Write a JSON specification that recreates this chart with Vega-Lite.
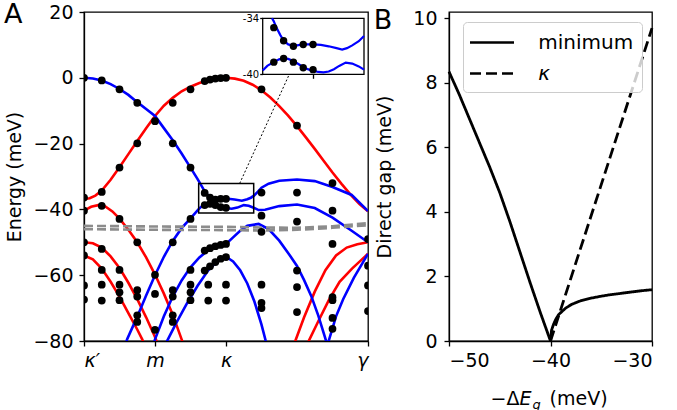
{
"$schema": "https://vega.github.io/schema/vega-lite/v6.json",
"padding": {"left": 3, "top": 0, "right": 0, "bottom": 0},
"spacing": 3,
"resolve": {"scale": {"strokeDash": "independent", "color": "independent"}, "legend": {"strokeDash": "independent", "color": "independent"}},
"config": {
 "font": "DejaVu Sans",
 "view": {"stroke": "black", "strokeWidth": 1.3},
 "axis": {"grid": false, "domainColor": "black", "tickColor": "black", "labelColor": "black", "titleColor": "black", "labelFontSize": 19, "titleFontSize": 19, "titleFontWeight": "normal", "tickSize": 5, "labelPadding": 5, "domainWidth": 1.3, "tickWidth": 1.3, "labelFont": "DejaVu Sans", "titleFont": "DejaVu Sans"},
 "title": {"fontSize": 27, "fontWeight": "normal", "font": "DejaVu Sans", "anchor": "start", "color": "black"},
 "legend": {"labelFont": "DejaVu Sans"}
},
"datasets": {
 "bands": [
  {"b":"R1","f":"r","x":0,"E":-36.8},{"b":"R1","f":"r","x":0.08,"E":-36.6},{"b":"R1","f":"r","x":0.16,"E":-35.8},{"b":"R1","f":"r","x":0.25,"E":-34.3},{"b":"R1","f":"r","x":0.375,"E":-31},{"b":"R1","f":"r","x":0.5,"E":-27.2},{"b":"R1","f":"r","x":0.625,"E":-23.2},{"b":"R1","f":"r","x":0.75,"E":-19.2},{"b":"R1","f":"r","x":0.875,"E":-15.3},{"b":"R1","f":"r","x":1,"E":-11.6},{"b":"R1","f":"r","x":1.125,"E":-8.5},{"b":"R1","f":"r","x":1.25,"E":-6.1},{"b":"R1","f":"r","x":1.375,"E":-4.1},{"b":"R1","f":"r","x":1.5,"E":-2.7},{"b":"R1","f":"r","x":1.625,"E":-1.6},{"b":"R1","f":"r","x":1.75,"E":-0.75},{"b":"R1","f":"r","x":1.875,"E":-0.2},{"b":"R1","f":"r","x":2,"E":0},{"b":"R1","f":"r","x":2.125,"E":-0.25},{"b":"R1","f":"r","x":2.25,"E":-0.9},{"b":"R1","f":"r","x":2.375,"E":-2.1},{"b":"R1","f":"r","x":2.5,"E":-3.8},{"b":"R1","f":"r","x":2.625,"E":-6},{"b":"R1","f":"r","x":2.75,"E":-8.6},{"b":"R1","f":"r","x":2.875,"E":-11.5},{"b":"R1","f":"r","x":3,"E":-14.7},{"b":"R1","f":"r","x":3.125,"E":-18.1},{"b":"R1","f":"r","x":3.25,"E":-21.6},{"b":"R1","f":"r","x":3.375,"E":-25.2},{"b":"R1","f":"r","x":3.5,"E":-28.8},{"b":"R1","f":"r","x":3.63,"E":-32.3},{"b":"R1","f":"r","x":3.77,"E":-35.9},{"b":"R1","f":"r","x":3.88,"E":-38.4},{"b":"R1","f":"r","x":4,"E":-40.6},
  {"b":"R2","f":"r","x":0,"E":-40.4},{"b":"R2","f":"r","x":0.1,"E":-39.2},{"b":"R2","f":"r","x":0.2,"E":-38.7},{"b":"R2","f":"r","x":0.3,"E":-39.1},{"b":"R2","f":"r","x":0.4,"E":-40.6},{"b":"R2","f":"r","x":0.5,"E":-42.8},{"b":"R2","f":"r","x":0.625,"E":-46.2},{"b":"R2","f":"r","x":0.75,"E":-50},{"b":"R2","f":"r","x":0.875,"E":-54.6},{"b":"R2","f":"r","x":1,"E":-59.8},{"b":"R2","f":"r","x":1.125,"E":-65.6},{"b":"R2","f":"r","x":1.25,"E":-72},{"b":"R2","f":"r","x":1.375,"E":-79.5},{"b":"R2","f":"r","x":1.4,"E":-81},
  {"b":"R3","f":"r","x":0,"E":-50},{"b":"R3","f":"r","x":0.125,"E":-50.3},{"b":"R3","f":"r","x":0.25,"E":-51.6},{"b":"R3","f":"r","x":0.375,"E":-54.3},{"b":"R3","f":"r","x":0.5,"E":-57.8},{"b":"R3","f":"r","x":0.625,"E":-62.3},{"b":"R3","f":"r","x":0.75,"E":-67.3},{"b":"R3","f":"r","x":0.875,"E":-72.8},{"b":"R3","f":"r","x":1,"E":-78.8},{"b":"R3","f":"r","x":1.04,"E":-81},
  {"b":"R4","f":"r","x":0,"E":-54},{"b":"R4","f":"r","x":0.125,"E":-55.2},{"b":"R4","f":"r","x":0.25,"E":-58},{"b":"R4","f":"r","x":0.375,"E":-62},{"b":"R4","f":"r","x":0.5,"E":-66.5},{"b":"R4","f":"r","x":0.625,"E":-71.5},{"b":"R4","f":"r","x":0.75,"E":-76.5},{"b":"R4","f":"r","x":0.82,"E":-79.5},{"b":"R4","f":"r","x":0.85,"E":-81},
  {"b":"R5","f":"r","x":2.96,"E":-81},{"b":"R5","f":"r","x":2.976,"E":-80},{"b":"R5","f":"r","x":3.1,"E":-72.8},{"b":"R5","f":"r","x":3.25,"E":-65},{"b":"R5","f":"r","x":3.4,"E":-58.5},{"b":"R5","f":"r","x":3.55,"E":-54},{"b":"R5","f":"r","x":3.7,"E":-51.6},{"b":"R5","f":"r","x":3.85,"E":-50.6},{"b":"R5","f":"r","x":4,"E":-50},
  {"b":"R6","f":"r","x":3.15,"E":-81},{"b":"R6","f":"r","x":3.165,"E":-80},{"b":"R6","f":"r","x":3.3,"E":-74},{"b":"R6","f":"r","x":3.45,"E":-67.5},{"b":"R6","f":"r","x":3.6,"E":-62},{"b":"R6","f":"r","x":3.775,"E":-58},{"b":"R6","f":"r","x":3.9,"E":-55.5},{"b":"R6","f":"r","x":4,"E":-53.5},
  {"b":"B1","f":"b","x":0,"E":0},{"b":"B1","f":"b","x":0.125,"E":-0.2},{"b":"B1","f":"b","x":0.25,"E":-0.8},{"b":"B1","f":"b","x":0.375,"E":-1.9},{"b":"B1","f":"b","x":0.5,"E":-3.4},{"b":"B1","f":"b","x":0.625,"E":-5.2},{"b":"B1","f":"b","x":0.75,"E":-7.4},{"b":"B1","f":"b","x":0.875,"E":-9.5},{"b":"B1","f":"b","x":1,"E":-11.6},{"b":"B1","f":"b","x":1.125,"E":-15.3},{"b":"B1","f":"b","x":1.25,"E":-19},{"b":"B1","f":"b","x":1.375,"E":-23},{"b":"B1","f":"b","x":1.5,"E":-27.3},{"b":"B1","f":"b","x":1.6,"E":-30.8},{"b":"B1","f":"b","x":1.686,"E":-34},{"b":"B1","f":"b","x":1.72,"E":-35},{"b":"B1","f":"b","x":1.75,"E":-35.8},{"b":"B1","f":"b","x":1.776,"E":-36.4},{"b":"B1","f":"b","x":1.81,"E":-36.8},{"b":"B1","f":"b","x":1.853,"E":-36.95},{"b":"B1","f":"b","x":1.93,"E":-36.8},{"b":"B1","f":"b","x":2,"E":-36.8},{"b":"B1","f":"b","x":2.06,"E":-36.85},{"b":"B1","f":"b","x":2.12,"E":-37},{"b":"B1","f":"b","x":2.223,"E":-37.35},{"b":"B1","f":"b","x":2.3,"E":-36.9},{"b":"B1","f":"b","x":2.35,"E":-36.45},{"b":"B1","f":"b","x":2.39,"E":-35.9},{"b":"B1","f":"b","x":2.45,"E":-34.6},{"b":"B1","f":"b","x":2.5,"E":-33.4},{"b":"B1","f":"b","x":2.6,"E":-32.2},{"b":"B1","f":"b","x":2.75,"E":-31.3},{"b":"B1","f":"b","x":3,"E":-30.9},{"b":"B1","f":"b","x":3.25,"E":-31.4},{"b":"B1","f":"b","x":3.5,"E":-33.2},{"b":"B1","f":"b","x":3.77,"E":-35.6},{"b":"B1","f":"b","x":4,"E":-40.5},
  {"b":"B2","f":"b","x":0.59,"E":-81},{"b":"B2","f":"b","x":0.606,"E":-79.5},{"b":"B2","f":"b","x":0.75,"E":-72.6},{"b":"B2","f":"b","x":0.875,"E":-66.2},{"b":"B2","f":"b","x":1,"E":-60},{"b":"B2","f":"b","x":1.125,"E":-54.4},{"b":"B2","f":"b","x":1.25,"E":-49.6},{"b":"B2","f":"b","x":1.375,"E":-45.7},{"b":"B2","f":"b","x":1.5,"E":-42.7},{"b":"B2","f":"b","x":1.615,"E":-39.9},{"b":"B2","f":"b","x":1.65,"E":-39.2},{"b":"B2","f":"b","x":1.699,"E":-38.7},{"b":"B2","f":"b","x":1.74,"E":-38.4},{"b":"B2","f":"b","x":1.776,"E":-38.3},{"b":"B2","f":"b","x":1.81,"E":-38.35},{"b":"B2","f":"b","x":1.853,"E":-38.6},{"b":"B2","f":"b","x":1.9,"E":-39},{"b":"B2","f":"b","x":1.93,"E":-39.3},{"b":"B2","f":"b","x":2,"E":-39.6},{"b":"B2","f":"b","x":2.08,"E":-39.8},{"b":"B2","f":"b","x":2.16,"E":-39.45},{"b":"B2","f":"b","x":2.25,"E":-38.7},{"b":"B2","f":"b","x":2.32,"E":-38.9},{"b":"B2","f":"b","x":2.39,"E":-39.5},{"b":"B2","f":"b","x":2.46,"E":-40.2},{"b":"B2","f":"b","x":2.55,"E":-40.1},{"b":"B2","f":"b","x":2.75,"E":-39},{"b":"B2","f":"b","x":3,"E":-38.5},{"b":"B2","f":"b","x":3.25,"E":-39.6},{"b":"B2","f":"b","x":3.5,"E":-42.5},{"b":"B2","f":"b","x":3.77,"E":-46.5},{"b":"B2","f":"b","x":4,"E":-50},
  {"b":"B3","f":"b","x":0.98,"E":-81},{"b":"B3","f":"b","x":1,"E":-79.5},{"b":"B3","f":"b","x":1.125,"E":-72.5},{"b":"B3","f":"b","x":1.25,"E":-66.5},{"b":"B3","f":"b","x":1.375,"E":-61.6},{"b":"B3","f":"b","x":1.5,"E":-57.6},{"b":"B3","f":"b","x":1.625,"E":-54.6},{"b":"B3","f":"b","x":1.75,"E":-52.4},{"b":"B3","f":"b","x":1.875,"E":-51},{"b":"B3","f":"b","x":2,"E":-50.5},{"b":"B3","f":"b","x":2.1,"E":-48.5},{"b":"B3","f":"b","x":2.2,"E":-46.5},{"b":"B3","f":"b","x":2.3,"E":-45},{"b":"B3","f":"b","x":2.46,"E":-44.4},{"b":"B3","f":"b","x":2.6,"E":-46},{"b":"B3","f":"b","x":2.75,"E":-49.5},{"b":"B3","f":"b","x":2.9,"E":-54},{"b":"B3","f":"b","x":3,"E":-57.2},{"b":"B3","f":"b","x":3.1,"E":-61.5},{"b":"B3","f":"b","x":3.2,"E":-66.3},{"b":"B3","f":"b","x":3.3,"E":-72.3},{"b":"B3","f":"b","x":3.4,"E":-79.3},{"b":"B3","f":"b","x":3.43,"E":-81.5},
  {"b":"B4","f":"b","x":1.15,"E":-81.5},{"b":"B4","f":"b","x":1.17,"E":-80},{"b":"B4","f":"b","x":1.3,"E":-74.5},{"b":"B4","f":"b","x":1.45,"E":-68.6},{"b":"B4","f":"b","x":1.6,"E":-63.2},{"b":"B4","f":"b","x":1.75,"E":-58.5},{"b":"B4","f":"b","x":1.875,"E":-55.8},{"b":"B4","f":"b","x":2,"E":-54.4},{"b":"B4","f":"b","x":2.1,"E":-55.8},{"b":"B4","f":"b","x":2.2,"E":-58.5},{"b":"B4","f":"b","x":2.3,"E":-62.5},{"b":"B4","f":"b","x":2.4,"E":-68},{"b":"B4","f":"b","x":2.5,"E":-75},{"b":"B4","f":"b","x":2.56,"E":-80},{"b":"B4","f":"b","x":2.58,"E":-81.5},
  {"b":"B5","f":"b","x":3.43,"E":-81.5},{"b":"B5","f":"b","x":3.446,"E":-80},{"b":"B5","f":"b","x":3.55,"E":-72.5},{"b":"B5","f":"b","x":3.65,"E":-67.3},{"b":"B5","f":"b","x":3.8,"E":-60.8},{"b":"B5","f":"b","x":4,"E":-53.5}
 ],
 "flat": [
  {"b":"G1","x":0,"E":-45},{"b":"G1","x":1,"E":-45.2},{"b":"G1","x":2,"E":-45.3},{"b":"G1","x":2.5,"E":-45.5},{"b":"G1","x":3,"E":-45.6},{"b":"G1","x":3.5,"E":-45.1},{"b":"G1","x":4,"E":-44.2},
  {"b":"G2","x":0,"E":-46},{"b":"G2","x":1,"E":-46.2},{"b":"G2","x":2,"E":-46.3},{"b":"G2","x":2.5,"E":-46.4},{"b":"G2","x":3,"E":-46.2},{"b":"G2","x":3.5,"E":-45.6},{"b":"G2","x":4,"E":-44.8}
 ],
 "pts": [
  {"x":0,"E":0},{"x":0,"E":-36.4},{"x":0,"E":-40.4},{"x":0,"E":-50},{"x":0,"E":-54},{"x":0,"E":-63.1},{"x":0,"E":-67.4},
  {"x":0.25,"E":-0.8},{"x":0.25,"E":-34.7},{"x":0.25,"E":-38.9},{"x":0.25,"E":-52},{"x":0.25,"E":-58.4},{"x":0.25,"E":-62.9},{"x":0.25,"E":-67.7},
  {"x":0.5,"E":-3.5},{"x":0.5,"E":-27.3},{"x":0.5,"E":-42.9},{"x":0.5,"E":-58.4},{"x":0.5,"E":-62.9},{"x":0.5,"E":-65.2},{"x":0.5,"E":-67.6},
  {"x":0.75,"E":-7.6},{"x":0.75,"E":-19.9},{"x":0.75,"E":-50},{"x":0.75,"E":-64.5},{"x":0.75,"E":-66.5},{"x":0.75,"E":-72.2},{"x":0.75,"E":-74.2},
  {"x":1,"E":-13.2},{"x":1,"E":-59.9},{"x":1,"E":-65.7},{"x":1,"E":-76.6},
  {"x":1.25,"E":-7.6},{"x":1.25,"E":-19.9},{"x":1.25,"E":-50},{"x":1.25,"E":-64.5},{"x":1.25,"E":-66.5},{"x":1.25,"E":-72.2},{"x":1.25,"E":-74.2},
  {"x":1.5,"E":-3.5},{"x":1.5,"E":-27.3},{"x":1.5,"E":-42.9},{"x":1.5,"E":-58.4},{"x":1.5,"E":-62.9},{"x":1.5,"E":-65.2},{"x":1.5,"E":-67.6},
  {"x":1.75,"E":-62.9},{"x":1.75,"E":-67.7},
  {"x":1.7,"E":-1},{"x":1.775,"E":-0.55},{"x":1.85,"E":-0.25},{"x":1.925,"E":-0.07},{"x":2,"E":0},
  {"x":1.7,"E":-35},{"x":1.775,"E":-36.4},{"x":1.85,"E":-37},{"x":1.925,"E":-36.8},{"x":2,"E":-36.8},
  {"x":1.7,"E":-38.7},{"x":1.775,"E":-38.3},{"x":1.85,"E":-38.7},{"x":1.925,"E":-39.3},{"x":2,"E":-39.5},
  {"x":1.7,"E":-52.5},{"x":1.775,"E":-51.8},{"x":1.85,"E":-51.2},{"x":1.925,"E":-50.8},{"x":2,"E":-50.5},
  {"x":1.7,"E":-58.6},{"x":1.775,"E":-57.3},{"x":1.85,"E":-56},{"x":1.925,"E":-55},{"x":2,"E":-54.5},
  {"x":2,"E":-62.9},{"x":2,"E":-67.7},
  {"x":2.5,"E":-3.5},{"x":2.5,"E":-34.9},{"x":2.5,"E":-41.9},{"x":2.5,"E":-46.8},{"x":2.5,"E":-62.9},{"x":2.5,"E":-68.4},{"x":2.5,"E":-70},
  {"x":3,"E":-14.5},{"x":3,"E":-34.9},{"x":3,"E":-43.7},{"x":3,"E":-58.6},{"x":3,"E":-63.6},{"x":3,"E":-71.2},
  {"x":3.5,"E":-32},{"x":3.5,"E":-40.4},{"x":3.5,"E":-50.5},{"x":3.5,"E":-66.7},{"x":3.5,"E":-67.6},{"x":3.5,"E":-73},{"x":3.5,"E":-76.3},
  {"x":4,"E":-49},{"x":4,"E":-57.1},{"x":4,"E":-63.1},{"x":4,"E":-70.9}
 ],
 "inset": [
  {"b":"U","x":1.686,"E":-34},{"b":"U","x":1.699,"E":-34.3},{"b":"U","x":1.72,"E":-35},{"b":"U","x":1.75,"E":-35.8},{"b":"U","x":1.776,"E":-36.4},{"b":"U","x":1.81,"E":-36.8},{"b":"U","x":1.853,"E":-36.95},{"b":"U","x":1.9,"E":-36.85},{"b":"U","x":1.93,"E":-36.8},{"b":"U","x":2,"E":-36.8},{"b":"U","x":2.06,"E":-36.85},{"b":"U","x":2.12,"E":-37},{"b":"U","x":2.18,"E":-37.2},{"b":"U","x":2.223,"E":-37.35},{"b":"U","x":2.26,"E":-37.2},{"b":"U","x":2.3,"E":-36.9},{"b":"U","x":2.35,"E":-36.45},{"b":"U","x":2.39,"E":-35.9},
  {"b":"L","x":1.615,"E":-39.6},{"b":"L","x":1.65,"E":-39.1},{"b":"L","x":1.699,"E":-38.7},{"b":"L","x":1.74,"E":-38.4},{"b":"L","x":1.776,"E":-38.3},{"b":"L","x":1.81,"E":-38.35},{"b":"L","x":1.853,"E":-38.6},{"b":"L","x":1.9,"E":-39},{"b":"L","x":1.93,"E":-39.3},{"b":"L","x":1.97,"E":-39.5},{"b":"L","x":2,"E":-39.6},{"b":"L","x":2.04,"E":-39.75},{"b":"L","x":2.08,"E":-39.8},{"b":"L","x":2.12,"E":-39.7},{"b":"L","x":2.16,"E":-39.45},{"b":"L","x":2.2,"E":-39.1},{"b":"L","x":2.25,"E":-38.75},{"b":"L","x":2.3,"E":-38.85},{"b":"L","x":2.35,"E":-39.15},{"b":"L","x":2.39,"E":-39.5}
 ],
 "frames": [
  {"name": "box", "x": 1.615, "x2": 2.39, "E": -32.1, "E2": -41.1}
 ],
 "links": [
  {"name": "link", "x": 2.193, "x2": 2.89, "E": -32.1, "E2": 1.0}
 ],
 "insetframe": [
  {"name": "inset", "x": 1.615, "x2": 2.39, "E": -40, "E2": -34}
 ],
 "gap": [
  {"s":"minimum","d":-50,"g":8.35},{"s":"minimum","d":-49,"g":7.65},{"s":"minimum","d":-48,"g":6.9},{"s":"minimum","d":-47,"g":6.15},{"s":"minimum","d":-46,"g":5.4},{"s":"minimum","d":-45,"g":4.6},{"s":"minimum","d":-44,"g":3.7},{"s":"minimum","d":-43,"g":2.75},{"s":"minimum","d":-42,"g":1.8},{"s":"minimum","d":-41,"g":0.88},{"s":"minimum","d":-40,"g":0},
  {"s":"minimum","d":-39.9,"g":0.33},{"s":"minimum","d":-39.7,"g":0.52},{"s":"minimum","d":-39.5,"g":0.66},{"s":"minimum","d":-39.2,"g":0.82},{"s":"minimum","d":-38.5,"g":1.02},{"s":"minimum","d":-37.9,"g":1.14},{"s":"minimum","d":-37,"g":1.25},{"s":"minimum","d":-36,"g":1.33},{"s":"minimum","d":-35,"g":1.39},{"s":"minimum","d":-34,"g":1.44},{"s":"minimum","d":-33,"g":1.48},{"s":"minimum","d":-32,"g":1.52},{"s":"minimum","d":-31,"g":1.56},{"s":"minimum","d":-30,"g":1.59},
  {"s":"κ","d":-40,"g":0},{"s":"κ","d":-30,"g":9.7}
 ]
},
"hconcat": [
 {
  "width": 284, "height": 329,
  "title": {"text": "A", "offset": -26, "dx": -2},
  "layer": [
   {
    "encoding": {
     "x": {"field": "x", "type": "quantitative", "scale": {"domain": [0, 4], "nice": false, "zero": false},
           "axis": {"values": [0, 1, 2, 4], "labelExpr": "datum.value === 0 ? 'κ′' : datum.value === 1 ? 'm' : datum.value === 2 ? 'κ' : 'γ'", "labelFontStyle": "italic", "title": null}},
     "y": {"field": "E", "type": "quantitative", "scale": {"domain": [-80, 20], "nice": false, "zero": false},
           "axis": {"values": [-80, -60, -40, -20, 0, 20], "title": "Energy (meV)", "titlePadding": 8, "labelPadding": 6}}
    },
    "layer": [
     {"data": {"values": [{"x": 1}, {"x": 2}]}, "mark": {"type": "rule", "color": "#aaaaaa", "strokeWidth": 2.5}, "encoding": {"y": {"datum": 20}, "y2": {"datum": -80}}},
     {"data": {"name": "bands"}, "mark": {"type": "line", "strokeWidth": 2.6, "clip": true}, "encoding": {"detail": {"field": "b"}, "color": {"field": "f", "type": "nominal", "scale": {"domain": ["r", "b"], "range": ["#ff0000", "#0000ff"]}, "legend": null}}},
     {"data": {"name": "flat"}, "mark": {"type": "line", "color": "#8c8c8c", "strokeWidth": 2.6, "strokeDash": [9, 4], "clip": true}, "encoding": {"detail": {"field": "b"}}},
     {"data": {"name": "pts"}, "mark": {"type": "circle", "color": "black", "opacity": 1, "size": 60, "clip": true}},
     {"data": {"name": "frames"}, "mark": {"type": "rect", "filled": false, "stroke": "black", "strokeWidth": 1.5}, "encoding": {"x2": {"field": "x2"}, "y2": {"field": "E2"}}},
     {"data": {"name": "links"}, "mark": {"type": "rule", "color": "black", "strokeWidth": 1, "strokeDash": [2, 2]}, "encoding": {"x2": {"field": "x2"}, "y2": {"field": "E2"}}}
    ]
   },
   {
    "encoding": {
     "x": {"field": "x", "type": "quantitative", "scale": {"domain": [1.615, 2.39], "range": [178.7, 280], "nice": false, "zero": false},
           "axis": {"orient": "bottom", "offset": -266.7, "values": [2], "labels": false, "title": null, "tickSize": 4, "domain": false, "zindex": 1}},
     "y": {"field": "E", "type": "quantitative", "scale": {"domain": [-40, -34], "range": [62.3, 6.3], "nice": false, "zero": false},
           "axis": {"orient": "left", "offset": -178.7, "values": [-40, -34], "labelExpr": "'' + datum.value", "labelFontSize": 10, "labelPadding": 1, "tickSize": 3, "title": null, "domain": false, "zindex": 1}}
    },
    "layer": [
     {"data": {"name": "insetframe"}, "mark": {"type": "rect", "fill": "white", "stroke": "black", "strokeWidth": 1.3}, "encoding": {"x2": {"field": "x2"}, "y2": {"field": "E2"}}},
     {"data": {"values": [{"x": 2}]}, "mark": {"type": "rule", "color": "#aaaaaa", "strokeWidth": 2}, "encoding": {"y": {"datum": -34}, "y2": {"datum": -40}}},
     {"data": {"name": "inset"}, "mark": {"type": "line", "color": "#0000ff", "strokeWidth": 2.2}, "encoding": {"detail": {"field": "b"}}},
     {"data": {"name": "pts"}, "transform": [{"filter": "datum.x >= 1.6 && datum.x <= 2.4 && datum.E >= -40.5 && datum.E <= -33.5"}], "mark": {"type": "circle", "color": "black", "opacity": 1, "size": 55}}
    ]
   }
  ],
  "resolve": {"scale": {"x": "independent", "y": "independent"}}
 },
 {
  "width": 203, "height": 329,
  "title": {"text": "B", "offset": -26, "dx": -2},
  "data": {"name": "gap"},
  "encoding": {
   "y": {"field": "g", "type": "quantitative", "scale": {"domain": [0, 10.2], "nice": false, "zero": false},
         "axis": {"values": [0, 2, 4, 6, 8, 10], "title": "Direct gap (meV)", "titlePadding": 18, "labelPadding": 7}},
   "strokeDash": {"field": "s", "type": "nominal", "scale": {"domain": ["minimum", "κ"], "range": [[1, 0], [11, 5]]},
     "legend": {"orient": "top-right", "offset": 10, "title": null, "symbolType": "M-2,0H2", "symbolSize": 484, "symbolOffset": 8.5, "symbolStrokeWidth": 2.7, "symbolStrokeColor": "black", "labelFontSize": 20, "labelOffset": 33.7, "padding": 8, "rowPadding": 8, "fillColor": "rgba(255,255,255,0.8)", "strokeColor": "#cccccc", "cornerRadius": 4,
       "encode": {"labels": {"update": {"fontStyle": {"signal": "datum.label === 'κ' ? 'italic' : 'normal'"}}}}}}
  },
  "layer": [
   {"transform": [{"filter": "datum.s === 'minimum' && datum.d <= -40"}], "mark": {"type": "line", "color": "black", "strokeWidth": 2.8},
    "encoding": {"x": {"field": "d", "type": "quantitative", "scale": {"domain": [-50, -30], "nice": false, "zero": false},
      "axis": {"values": [-50, -40, -30], "title": "−Δ\u00a0\u00a0\u00a0\u00a0\u00a0(meV)", "titleX": 41, "titleAlign": "left", "titleY": 63, "titleBaseline": "alphabetic"}}}},
   {"transform": [{"filter": "datum.s === 'minimum' && datum.d >= -40"}], "mark": {"type": "line", "color": "black", "strokeWidth": 2.8},
    "encoding": {"x": {"field": "d", "type": "quantitative", "scale": {"domain": [-50, -30], "nice": false, "zero": false},
      "axis": {"orient": "bottom", "labels": false, "ticks": false, "domain": false, "title": "E", "titleFontStyle": "italic", "titleX": 70, "titleAlign": "left", "titleY": 63, "titleBaseline": "alphabetic"}}}},
   {"transform": [{"filter": "datum.s === 'κ'"}], "mark": {"type": "line", "color": "black", "strokeWidth": 2.8},
    "encoding": {"x": {"field": "d", "type": "quantitative", "scale": {"domain": [-50, -30], "nice": false, "zero": false},
      "axis": {"orient": "bottom", "labels": false, "ticks": false, "domain": false, "title": "g", "titleFontStyle": "italic", "titleFontSize": 13, "titleX": 83, "titleAlign": "left", "titleY": 67, "titleBaseline": "alphabetic"}}}}
  ],
  "resolve": {"axis": {"x": "independent"}}
 }
]
}
